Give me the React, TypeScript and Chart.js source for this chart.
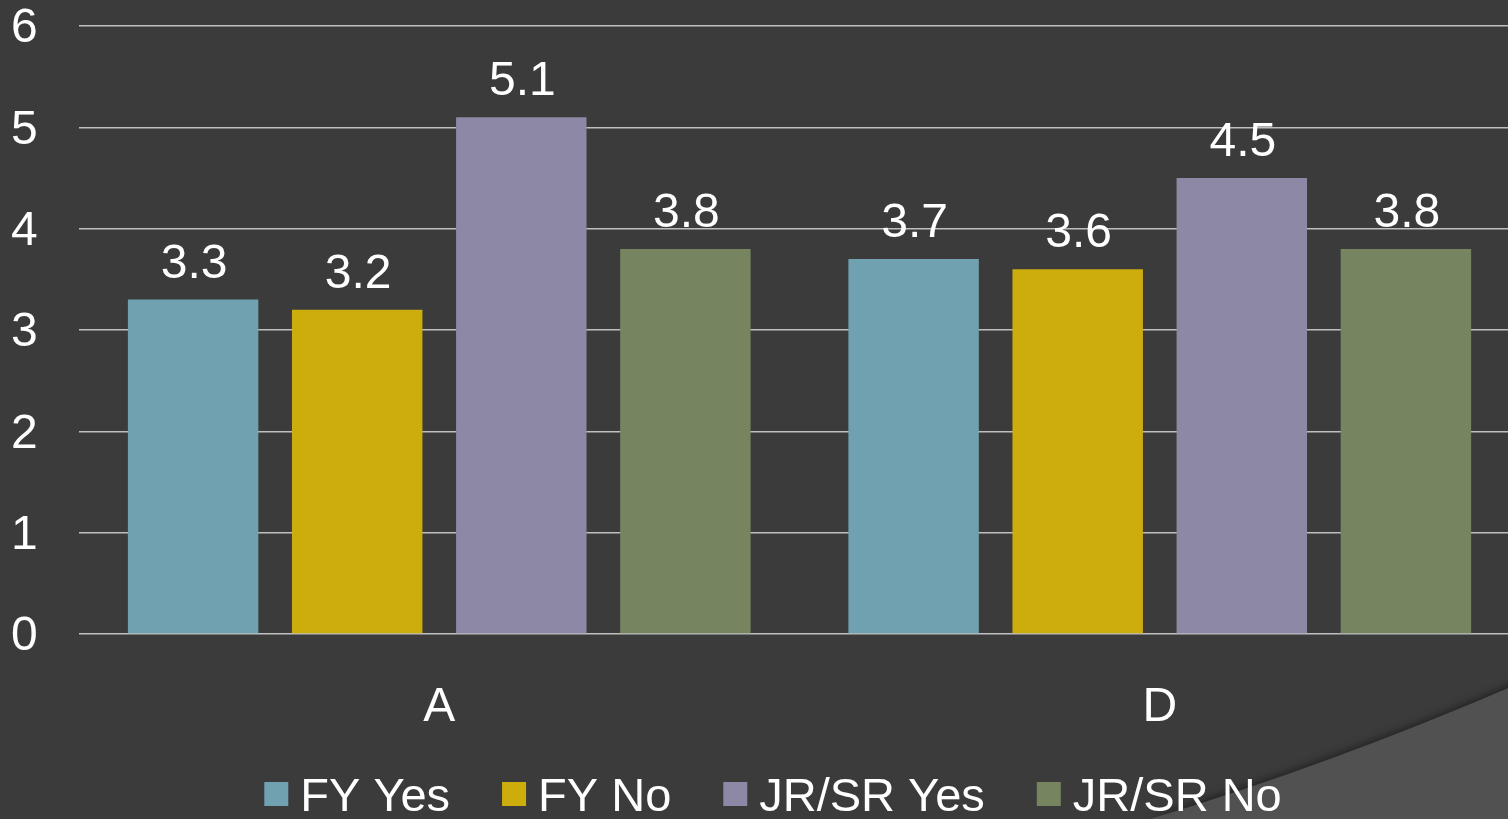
import React, { useEffect, useRef } from "react";
import { Chart, registerables } from "chart.js";

Chart.register(...registerables);

const categories = ["A", "D"];
const seriesNames = ["FY Yes", "FY No", "JR/SR Yes", "JR/SR No"];
const fyYes = [3.3, 3.7];
const fyNo = [3.2, 3.6];
const jrsrYes = [5.1, 4.5];
const jrsrNo = [3.8, 3.8];
const yTicks = [0, 1, 2, 3, 4, 5, 6];
const colors = ["#6fa1b0", "#ccad0c", "#8c88a6", "#768560"];

const FONT = "'Liberation Sans', Arial, sans-serif";
const FS = 48;
const LEGEND_FS = 47;

const bgPlugin = {
  id: "bgDecor",
  beforeDraw(chart: any) {
    const ctx = chart.ctx;
    ctx.save();
    ctx.fillStyle = "#3b3b3b";
    ctx.fillRect(0, 0, chart.width, chart.height);
    ctx.beginPath();
    ctx.moveTo(1150, 819);
    ctx.quadraticCurveTo(1330, 765, 1520, 683);
    ctx.lineTo(1520, 819);
    ctx.closePath();
    ctx.shadowColor = "rgba(0,0,0,0.45)";
    ctx.shadowBlur = 8;
    ctx.shadowOffsetY = -2;
    ctx.fillStyle = "#515151";
    ctx.fill();
    ctx.restore();
  },
};

const labelsPlugin = {
  id: "valueLabels",
  afterDatasetsDraw(chart: any) {
    const ctx = chart.ctx;
    ctx.save();
    ctx.font = `${FS}px ${FONT}`;
    ctx.fillStyle = "#ffffff";
    ctx.textAlign = "center";
    ctx.textBaseline = "alphabetic";
    chart.data.datasets.forEach((ds: any, i: number) => {
      const meta = chart.getDatasetMeta(i);
      meta.data.forEach((bar: any, j: number) => {
        ctx.fillText(String(ds.data[j]), bar.x + 1, bar.y - 22);
      });
    });
    ctx.restore();
  },
};

const legendPlugin = {
  id: "customLegend",
  afterDraw(chart: any) {
    const ctx = chart.ctx;
    ctx.save();
    ctx.font = `${LEGEND_FS}px ${FONT}`;
    const box = 24;
    const gap = 12;
    const spacing = 52;
    const widths = chart.data.datasets.map((ds: any) => ctx.measureText(ds.label).width);
    const total =
      widths.reduce((a: number, b: number) => a + b, 0) +
      widths.length * (box + gap) +
      (widths.length - 1) * spacing;
    let x = 773 - total / 2;
    const cy = 794;
    chart.data.datasets.forEach((ds: any, i: number) => {
      ctx.fillStyle = ds.backgroundColor;
      ctx.fillRect(x, cy - box / 2, box, box);
      x += box + gap;
      ctx.fillStyle = "#ffffff";
      ctx.textAlign = "left";
      ctx.textBaseline = "alphabetic";
      ctx.fillText(ds.label, x, cy + 17);
      x += widths[i] + spacing;
    });
    ctx.restore();
  },
};

export default function App() {
  const ref = useRef<HTMLCanvasElement>(null);
  useEffect(() => {
    document.body.style.margin = "0";
    document.body.style.overflow = "hidden";
    const seriesData = [fyYes, fyNo, jrsrYes, jrsrNo];
    const chart = new Chart(ref.current!, {
      type: "bar",
      data: {
        labels: categories,
        datasets: seriesNames.map((name, i) => ({
          label: name,
          data: seriesData[i],
          backgroundColor: colors[i],
          borderWidth: 0,
          categoryPercentage: 0.911,
          barPercentage: 0.795,
        })),
      },
      options: {
        responsive: false,
        animation: false,
        devicePixelRatio: 1,
        layout: { padding: { left: 11, right: 0, top: 26, bottom: 0 } },
        plugins: { legend: { display: false }, tooltip: { enabled: false } },
        scales: {
          x: {
            grid: { display: false },
            border: { display: false },
            ticks: { color: "#ffffff", font: { size: FS, family: FONT }, padding: 37, maxRotation: 0 },
            afterFit: (scale: any) => {
              scale.height = 185;
              scale.paddingLeft = 0;
              scale.paddingRight = 0;
              scale.paddingTop = 0;
              scale.paddingBottom = 0;
            },
          },
          y: {
            min: 0,
            max: 6,
            afterBuildTicks: (scale: any) => {
              scale.ticks = yTicks.map((v) => ({ value: v }));
            },
            grid: { color: "#bfbfbf", lineWidth: 1.5, drawTicks: false },
            border: { display: false },
            ticks: {
              color: "#ffffff",
              font: { size: FS, family: FONT },
              padding: 0,
              crossAlign: "far",
              labelOffset: 3,
            },
            afterFit: (scale: any) => {
              scale.width = 68;
              scale.paddingTop = 0;
              scale.paddingBottom = 0;
              scale.paddingLeft = 0;
              scale.paddingRight = 0;
            },
          },
        },
      },
      plugins: [bgPlugin, labelsPlugin, legendPlugin],
    });
    return () => chart.destroy();
  }, []);
  return (
    <div style={{ position: "fixed", left: 0, top: 0, width: 1508, height: 819, overflow: "hidden", background: "#3b3b3b" }}>
      <canvas ref={ref} width={1520} height={819} style={{ display: "block" }} />
    </div>
  );
}
